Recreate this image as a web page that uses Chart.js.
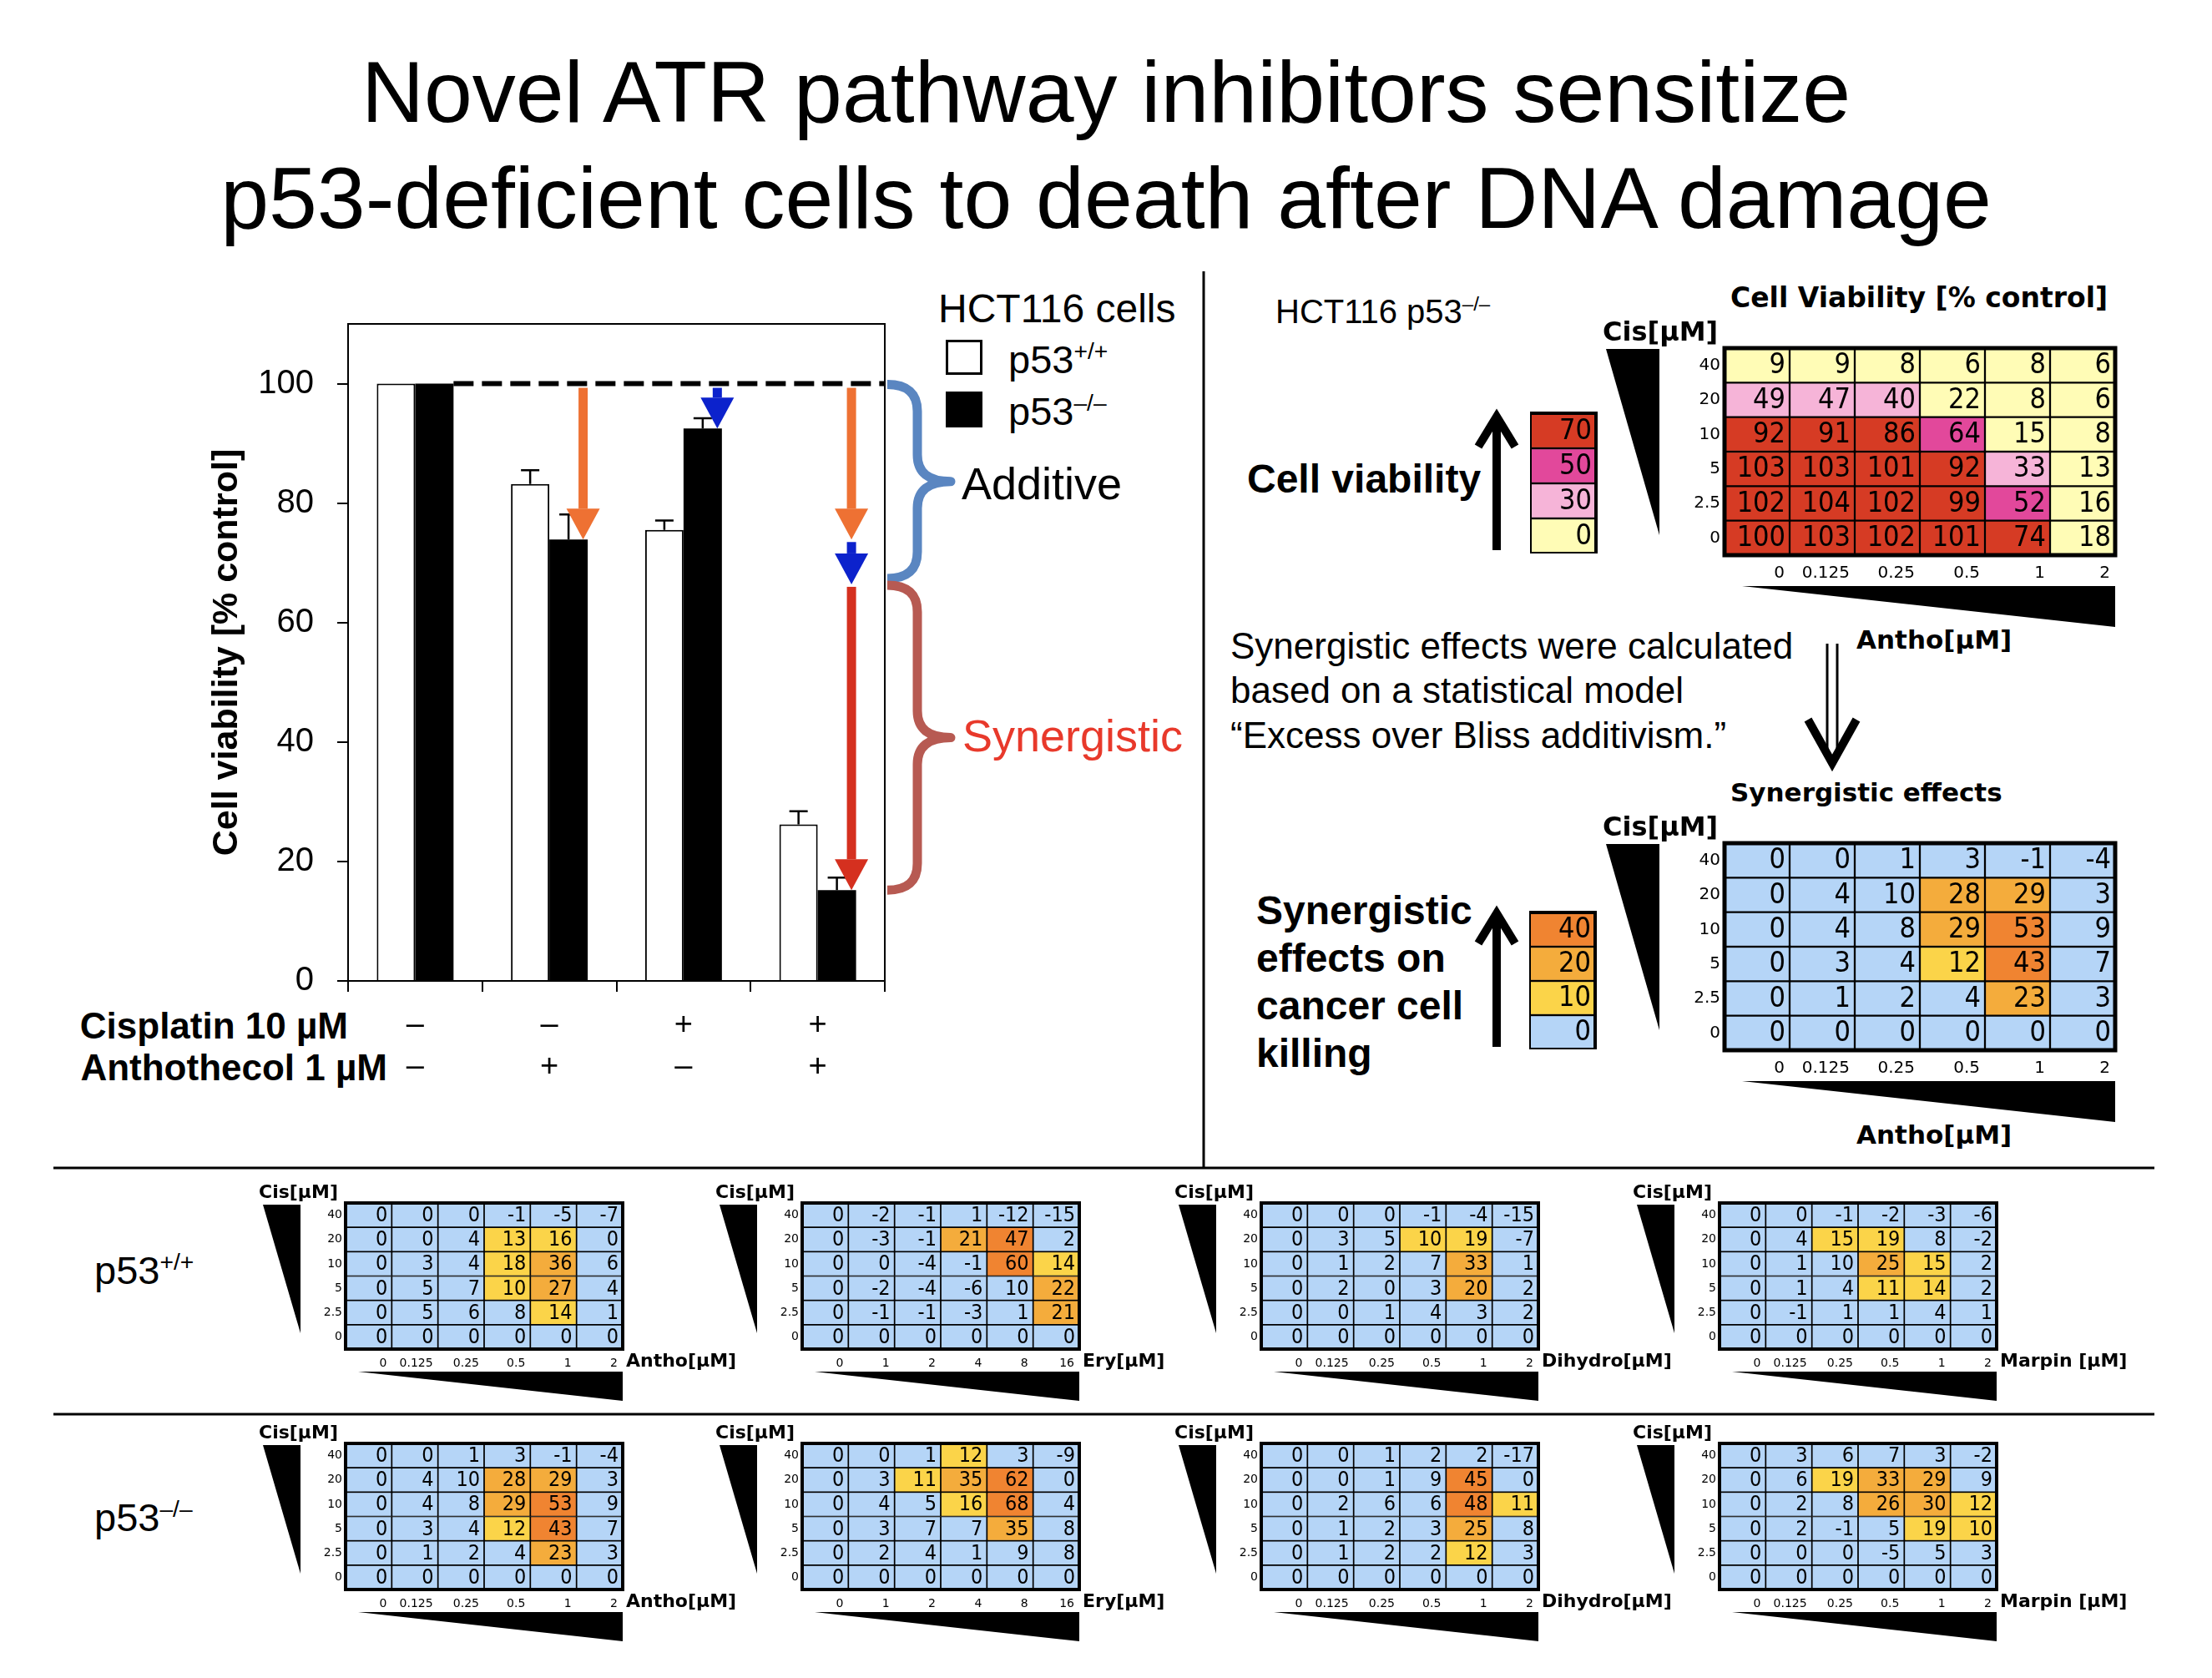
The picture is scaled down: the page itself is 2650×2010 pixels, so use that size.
<!DOCTYPE html>
<html>
<head>
<meta charset="utf-8">
<script src="https://cdn.jsdelivr.net/npm/chart.js@4.4.1/dist/chart.umd.min.js"></script>
<style>
  html, body { margin: 0; padding: 0; background: #fff; }
  #page { position: relative; width: 2650px; height: 2010px; overflow: hidden;
          font-family: "Liberation Sans", Arial, sans-serif; color: #000; }
  .t { position: absolute; white-space: nowrap; line-height: 1; transform: translateY(-50%); }
  .v { font-family: "DejaVu Sans", Verdana, sans-serif; font-weight: bold; }
  .b { font-weight: bold; }
  sup { font-size: 0.6em; position: relative; top: -0.62em; vertical-align: baseline; }
  canvas { position: absolute; }
  svg { position: absolute; left: 0; top: 0; }
</style>
</head>
<body>
<div id="page">
  <div class="t" style="left:0;width:2650px;text-align:center;top:110px;font-size:104px">Novel ATR pathway inhibitors sensitize</div>
  <div class="t" style="left:0;width:2650px;text-align:center;top:237px;font-size:104px">p53-deficient cells to death after DNA damage</div>

  <div class="t" style="left:1124px;top:370px;font-size:48px">HCT116 cells</div>
  <div style="position:absolute;left:1133px;top:407px;width:44px;height:42px;border:3px solid #000;box-sizing:border-box;background:#fff"></div>
  <div style="position:absolute;left:1133px;top:469px;width:44px;height:43px;background:#000"></div>
  <div class="t" style="left:1208px;top:430px;font-size:47px">p53<sup>+/+</sup></div>
  <div class="t" style="left:1208px;top:492px;font-size:47px">p53<sup>–/–</sup></div>
  <div class="t" style="left:1152px;top:579px;font-size:54px">Additive</div>
  <div class="t" style="left:1153px;top:881px;font-size:54px;color:#e8392b">Synergistic</div>
  <div class="t b" style="right:2233px;top:1229px;font-size:44px">Cisplatin 10 µM</div>
  <div class="t b" style="right:2186px;top:1279px;font-size:44px">Anthothecol 1 µM</div>

  <div class="t" style="left:1528px;top:373px;font-size:40px">HCT116 p53<sup>–/–</sup></div>
  <div class="t b" style="left:1494px;top:574px;font-size:48px">Cell viability</div>
  <div class="t" style="left:1474px;top:774px;font-size:44px">Synergistic effects were calculated</div>
  <div class="t" style="left:1474px;top:827px;font-size:44px">based on a statistical model</div>
  <div class="t" style="left:1474px;top:881px;font-size:44px">“Excess over Bliss additivism.”</div>
  <div class="t b" style="left:1505px;top:1091px;font-size:48px">Synergistic</div>
  <div class="t b" style="left:1505px;top:1148px;font-size:48px">effects on</div>
  <div class="t b" style="left:1505px;top:1205px;font-size:48px">cancer cell</div>
  <div class="t b" style="left:1505px;top:1262px;font-size:48px">killing</div>

  <div class="t" style="left:113px;top:1521px;font-size:47px">p53<sup>+/+</sup></div>
  <div class="t" style="left:113px;top:1817px;font-size:47px">p53<sup>–/–</sup></div>
</div>

<script>
// ---- bar chart: HCT116 viability after single / combined treatment ----
const conditions = [['–', '–'], ['–', '+'], ['+', '–'], ['+', '+']]; // cisplatin, anthothecol
const viabilityWT = [100, 83.2, 75.5, 26.2];
const viabilityKO = [100, 73.9, 92.5, 15.2];
const errorWT = [0, 2.3, 1.6, 2.2];
const errorKO = [0, 4.2, 1.7, 2.1];

// ---- dose grids (rows listed top to bottom, as printed) ----
const cisDoses = ['40', '20', '10', '5', '2.5', '0'];
const anthoDoses = ['0', '0.125', '0.25', '0.5', '1', '2'];
const eryDoses = ['0', '1', '2', '4', '8', '16'];
const dihydroDoses = ['0', '0.125', '0.25', '0.5', '1', '2'];
const marpinDoses = ['0', '0.125', '0.25', '0.5', '1', '2'];

const viabilityAnthoKO = [
  [9, 9, 8, 6, 8, 6],
  [49, 47, 40, 22, 8, 6],
  [92, 91, 86, 64, 15, 8],
  [103, 103, 101, 92, 33, 13],
  [102, 104, 102, 99, 52, 16],
  [100, 103, 102, 101, 74, 18]
];

// excess over Bliss; 9.6 = printed "10" but coloured in the band below 10
const synAnthoWT = [
  [0, 0, 0, -1, -5, -7],
  [0, 0, 4, 13, 16, 0],
  [0, 3, 4, 18, 36, 6],
  [0, 5, 7, 10, 27, 4],
  [0, 5, 6, 8, 14, 1],
  [0, 0, 0, 0, 0, 0]
];
const synEryWT = [
  [0, -2, -1, 1, -12, -15],
  [0, -3, -1, 21, 47, 2],
  [0, 0, -4, -1, 60, 14],
  [0, -2, -4, -6, 9.6, 22],
  [0, -1, -1, -3, 1, 21],
  [0, 0, 0, 0, 0, 0]
];
const synDihydroWT = [
  [0, 0, 0, -1, -4, -15],
  [0, 3, 5, 10, 19, -7],
  [0, 1, 2, 7, 33, 1],
  [0, 2, 0, 3, 20, 2],
  [0, 0, 1, 4, 3, 2],
  [0, 0, 0, 0, 0, 0]
];
const synMarpinWT = [
  [0, 0, -1, -2, -3, -6],
  [0, 4, 15, 19, 8, -2],
  [0, 1, 9.6, 25, 15, 2],
  [0, 1, 4, 11, 14, 2],
  [0, -1, 1, 1, 4, 1],
  [0, 0, 0, 0, 0, 0]
];
const synAnthoKO = [
  [0, 0, 1, 3, -1, -4],
  [0, 4, 9.6, 28, 29, 3],
  [0, 4, 8, 29, 53, 9],
  [0, 3, 4, 12, 43, 7],
  [0, 1, 2, 4, 23, 3],
  [0, 0, 0, 0, 0, 0]
];
const synEryKO = [
  [0, 0, 1, 12, 3, -9],
  [0, 3, 11, 35, 62, 0],
  [0, 4, 5, 16, 68, 4],
  [0, 3, 7, 7, 35, 8],
  [0, 2, 4, 1, 9, 8],
  [0, 0, 0, 0, 0, 0]
];
const synDihydroKO = [
  [0, 0, 1, 2, 2, -17],
  [0, 0, 1, 9, 45, 0],
  [0, 2, 6, 6, 48, 11],
  [0, 1, 2, 3, 25, 8],
  [0, 1, 2, 2, 12, 3],
  [0, 0, 0, 0, 0, 0]
];
const synMarpinKO = [
  [0, 3, 6, 7, 3, -2],
  [0, 6, 19, 33, 29, 9],
  [0, 2, 8, 26, 30, 12],
  [0, 2, -1, 5, 19, 10],
  [0, 0, 0, -5, 5, 3],
  [0, 0, 0, 0, 0, 0]
];

const viabilityKey = [[70], [50], [30], [0]];
const synergyKey = [[40], [20], [10], [0]];

// ---------------------------------------------------------------
Chart.defaults.font.family = '"Liberation Sans", Arial, sans-serif';
Chart.defaults.color = '#000';

const page = document.getElementById('page');
const ORANGE = '#ee7133', BLUE = '#0c22cc', RED = '#d5301f';

function viabilityColor(v) {
  if (v >= 70) return '#d63b24';
  if (v >= 50) return '#e2489b';
  if (v >= 30) return '#f6b4d8';
  return '#fffcb6';
}
function synergyColor(v) {
  if (v >= 40) return '#f08431';
  if (v >= 20) return '#f4ac3c';
  if (v >= 10) return '#fbd449';
  return '#b5d5f7';
}

function addCanvas(left, top, w, h) {
  const c = document.createElement('canvas');
  c.width = w; c.height = h;
  c.style.left = left + 'px'; c.style.top = top + 'px';
  page.appendChild(c);
  return c;
}
function addText(txt, left, top, size, cls) {
  const d = document.createElement('div');
  d.className = 't ' + (cls || '');
  d.style.left = left + 'px'; d.style.top = top + 'px'; d.style.fontSize = size + 'px';
  d.textContent = txt;
  page.appendChild(d);
}

// numbers + thick outer frame for the grids
const cellText = {
  id: 'cellText',
  afterDatasetsDraw(chart, args, opts) {
    const { ctx, chartArea: a } = chart;
    ctx.save();
    ctx.font = opts.font;
    ctx.fillStyle = '#000';
    ctx.textAlign = 'right';
    ctx.textBaseline = 'middle';
    chart.data.datasets.forEach((ds, i) => {
      chart.getDatasetMeta(i).data.forEach((bar, j) => {
        const p = bar.getProps(['x', 'y', 'base', 'width'], true);
        ctx.fillText(String(Math.round(ds.values[j])), p.x + p.width / 2 - opts.padX, (p.y + p.base) / 2 + 1);
      });
    });
    ctx.lineWidth = opts.frame;
    ctx.strokeStyle = '#000';
    ctx.strokeRect(a.left, a.top, a.right - a.left, a.bottom - a.top);
    ctx.restore();
  }
};

// a grid is a stacked bar chart: one dataset per row, one unit-high bar per cell
function heatmap(s) {
  const axes = !!s.rowLabels;
  const yW = axes ? s.yW : 0, xH = axes ? s.xH : 0;
  const padT = axes ? 30 : 4, padR = 8;
  const cv = addCanvas(s.left - yW, s.top - padT, yW + s.w + padR, padT + s.h + xH);
  const up = s.rows.slice().reverse();
  const labelsUp = axes ? s.rowLabels.slice().reverse() : [];
  const cols = s.cols || up[0].map(() => '');
  return new Chart(cv, {
    type: 'bar',
    data: {
      labels: cols,
      datasets: up.map(r => ({
        data: r.map(() => 1),
        values: r,
        backgroundColor: r.map(s.color),
        borderColor: '#000',
        borderWidth: s.bw,
        borderSkipped: false,
        categoryPercentage: 1,
        barPercentage: 1
      }))
    },
    options: {
      responsive: false,
      animation: false,
      events: [],
      layout: { padding: { top: padT, right: padR, left: 0, bottom: 0 } },
      plugins: {
        legend: { display: false },
        tooltip: { enabled: false },
        cellText: { font: s.cellFont, padX: s.padX, frame: s.frame }
      },
      scales: {
        x: {
          display: axes, stacked: true,
          grid: { display: false, drawTicks: false, tickLength: 0 },
          border: { display: false },
          ticks: { font: s.tickFont, padding: s.xPad, align: 'end', labelOffset: s.w / cols.length / 2 - 6,
                   autoSkip: false, maxRotation: 0 },
          afterFit: sc => { sc.height = xH; }
        },
        y: {
          display: axes, stacked: true, min: 0, max: up.length,
          grid: { display: false, drawTicks: false, tickLength: 0 },
          border: { display: false },
          afterBuildTicks: sc => { sc.ticks = labelsUp.map((_, i) => ({ value: i + 0.5 })); },
          ticks: { font: s.tickFont, padding: s.yPad, callback: (v, i) => labelsUp[i] },
          afterFit: sc => { sc.width = yW; }
        }
      }
    },
    plugins: [cellText]
  });
}

const CELL_FAMILY = '"DejaVu Sans Condensed", "DejaVu Sans", sans-serif';
const svgParts = [];
function tri(pts) { svgParts.push(`<polygon points="${pts.map(p => p.join(',')).join(' ')}" fill="#000"/>`); }

// ---- large grids (right panel) ----
function bigGrid(rows, color, left, top, title, titleSize) {
  heatmap({
    rows, color, left, top, w: 468, h: 248,
    rowLabels: cisDoses, cols: anthoDoses,
    yW: 44, xH: 40, yPad: 5, xPad: 10, bw: 1.5, frame: 5, padX: 5,
    tickFont: { family: 'DejaVu Sans', size: 20 },
    cellFont: '34px ' + CELL_FAMILY
  });
  addText(title, left + 7, top - 61, titleSize, 'v');
  addText('Cis[µM]', left - 146, top - 20, 32, 'v');
  addText('Antho[µM]', left + 158, top + 349, 31, 'v');
  tri([[left - 142, top + 1], [left - 78, top + 1], [left - 78, top + 224]]);
  tri([[left + 21, top + 285], [left + 468, top + 285], [left + 468, top + 334]]);
}
bigGrid(viabilityAnthoKO, viabilityColor, 2066, 417, 'Cell Viability [% control]', 33);
bigGrid(synAnthoKO, synergyColor, 2066, 1010, 'Synergistic effects', 31);

// colour keys
heatmap({ rows: viabilityKey, color: viabilityColor, left: 1833, top: 495, w: 79, h: 168,
          bw: 1.5, frame: 4, padX: 5, cellFont: '34px ' + CELL_FAMILY });
heatmap({ rows: synergyKey, color: synergyColor, left: 1832, top: 1093, w: 79, h: 164,
          bw: 1.5, frame: 4, padX: 5, cellFont: '34px ' + CELL_FAMILY });

// ---- small grids (bottom panels) ----
const compounds = [
  { name: 'Antho[µM]', doses: anthoDoses, wt: synAnthoWT, ko: synAnthoKO, left: 414 },
  { name: 'Ery[µM]', doses: eryDoses, wt: synEryWT, ko: synEryKO, left: 961 },
  { name: 'Dihydro[µM]', doses: dihydroDoses, wt: synDihydroWT, ko: synDihydroKO, left: 1511 },
  { name: 'Marpin [µM]', doses: marpinDoses, wt: synMarpinWT, ko: synMarpinKO, left: 2060 }
];
[[1441, 'wt'], [1729, 'ko']].forEach(([top, key]) => {
  compounds.forEach(c => {
    const L = c.left;
    heatmap({
      rows: c[key], color: synergyColor, left: L, top, w: 332, h: 175,
      rowLabels: cisDoses, cols: c.doses,
      yW: 30, xH: 30, yPad: 4, xPad: 9, bw: 1.2, frame: 4, padX: 5,
      tickFont: { family: 'DejaVu Sans', size: 14 },
      cellFont: '25px ' + CELL_FAMILY
    });
    addText('Cis[µM]', L - 104, top - 13, 22, 'v');
    addText(c.name, L + 336, top + 189, 22, 'v');
    tri([[L - 99, top + 2], [L - 54, top + 2], [L - 54, top + 156]]);
    tri([[L + 15, top + 202], [L + 332, top + 202], [L + 332, top + 237]]);
  });
});

// ---- bar chart ----
function arrow(ctx, x, y0, y1, color) {
  const hl = Math.min(37, y1 - y0), hw = 20, sw = 5.5;
  ctx.fillStyle = color;
  if (y1 - y0 > hl) ctx.fillRect(x - sw, y0, 2 * sw, y1 - y0 - hl);
  ctx.beginPath();
  ctx.moveTo(x - hw, y1 - hl); ctx.lineTo(x + hw, y1 - hl); ctx.lineTo(x, y1);
  ctx.closePath(); ctx.fill();
}
function brace(ctx, x0, yA, yB, color) {
  const xb = x0 + 36, xc = x0 + 76, mid = (yA + yB) / 2, r = 32;
  ctx.strokeStyle = color; ctx.lineWidth = 11; ctx.lineJoin = 'round'; ctx.setLineDash([]);
  ctx.beginPath();
  ctx.moveTo(x0, yA);
  ctx.quadraticCurveTo(xb, yA, xb, yA + r);
  ctx.lineTo(xb, mid - r);
  ctx.quadraticCurveTo(xb, mid, xc, mid);
  ctx.quadraticCurveTo(xb, mid, xb, mid + r);
  ctx.lineTo(xb, yB - r);
  ctx.quadraticCurveTo(xb, yB, x0, yB);
  ctx.stroke();
}

const barMarks = {
  id: 'barMarks',
  afterDatasetsDraw(chart) {
    const { ctx, chartArea: a, scales: { y } } = chart;
    const wt = chart.getDatasetMeta(0).data, ko = chart.getDatasetMeta(1).data;
    ctx.save();
    ctx.strokeStyle = '#000'; ctx.lineWidth = 2;
    ctx.beginPath(); ctx.moveTo(a.left, a.top); ctx.lineTo(a.right, a.top); ctx.lineTo(a.right, a.bottom); ctx.stroke();

    // upper error whiskers
    ctx.lineWidth = 2.5;
    [[wt, viabilityWT, errorWT], [ko, viabilityKO, errorKO]].forEach(([bars, v, e]) => {
      bars.forEach((b, i) => {
        if (!e[i]) return;
        const yt = y.getPixelForValue(v[i] + e[i]);
        ctx.beginPath();
        ctx.moveTo(b.x, y.getPixelForValue(v[i])); ctx.lineTo(b.x, yt);
        ctx.moveTo(b.x - 11, yt); ctx.lineTo(b.x + 11, yt);
        ctx.stroke();
      });
    });

    // control level
    const y100 = y.getPixelForValue(viabilityKO[0]);
    ctx.lineWidth = 6; ctx.setLineDash([24, 10]);
    ctx.beginPath(); ctx.moveTo(ko[0].x + ko[0].width / 2, y100); ctx.lineTo(a.right, y100); ctx.stroke();
    ctx.setLineDash([]);

    // effects of each drug alone and the Bliss-additive expectation
    const anthoOnly = viabilityKO[1], cisOnly = viabilityKO[2];
    const additive = anthoOnly - (viabilityKO[0] - cisOnly);
    const ax = b => b.x + 0.38 * b.width;
    arrow(ctx, ax(ko[1]), y100 + 5, y.getPixelForValue(anthoOnly), ORANGE);
    arrow(ctx, ax(ko[2]), y100 + 5, y.getPixelForValue(cisOnly), BLUE);
    arrow(ctx, ax(ko[3]), y100 + 5, y.getPixelForValue(anthoOnly), ORANGE);
    arrow(ctx, ax(ko[3]), y.getPixelForValue(anthoOnly) + 3, y.getPixelForValue(additive), BLUE);
    arrow(ctx, ax(ko[3]), y.getPixelForValue(additive) + 3, y.getPixelForValue(viabilityKO[3]), RED);

    brace(ctx, a.right + 3, y100 + 1, y.getPixelForValue(additive) - 7, '#5a86c1');
    brace(ctx, a.right + 3, y.getPixelForValue(additive) + 1, y.getPixelForValue(viabilityKO[3]), '#b75a52');
    ctx.restore();
  }
};

new Chart(addCanvas(0, 330, 1440, 1000), {
  type: 'bar',
  data: {
    labels: conditions,
    datasets: [
      { label: 'p53+/+', data: viabilityWT, backgroundColor: '#fff', borderColor: '#000', borderWidth: 2,
        categoryPercentage: 0.572, barPercentage: 1 },
      { label: 'p53-/-', data: viabilityKO, backgroundColor: '#000', borderColor: '#000', borderWidth: 0,
        categoryPercentage: 0.572, barPercentage: 1 }
    ]
  },
  options: {
    responsive: false,
    animation: false,
    events: [],
    layout: { padding: { left: 230, top: 58, right: 380, bottom: 0 } },
    plugins: { legend: { display: false }, tooltip: { enabled: false } },
    scales: {
      x: {
        grid: { drawOnChartArea: false, color: '#000', lineWidth: 2, tickLength: 13, offset: true },
        border: { color: '#000', width: 2 },
        ticks: { font: { size: 38, lineHeight: 1.3 }, padding: 16, maxRotation: 0, autoSkip: false },
        afterFit: sc => { sc.height = 155; }
      },
      y: {
        min: 0, max: 110,
        grid: { drawOnChartArea: false, color: '#000', lineWidth: 2, tickLength: 13 },
        border: { color: '#000', width: 2 },
        ticks: { stepSize: 20, includeBounds: false, font: { size: 40 }, padding: 28 },
        title: { display: true, text: 'Cell viability [% control]', font: { size: 43, weight: 'bold' },
                 padding: { top: 16, bottom: 0 } },
        afterFit: sc => { sc.width = 187; }
      }
    }
  },
  plugins: [barMarks]
});

// ---- rules, arrows ----
function upArrow(x, yTip, yEnd) {
  svgParts.push(`<line x1="${x}" y1="${yEnd}" x2="${x}" y2="${yTip + 6}" stroke="#000" stroke-width="10"/>`);
  svgParts.push(`<polyline points="${x - 22},${yTip + 40} ${x},${yTip + 4} ${x + 22},${yTip + 40}" fill="none" stroke="#000" stroke-width="10"/>`);
}
upArrow(1793, 495, 659);
upArrow(1793, 1090, 1254);
svgParts.push('<line x1="2189" y1="771" x2="2189" y2="900" stroke="#000" stroke-width="3"/>');
svgParts.push('<line x1="2201" y1="771" x2="2201" y2="900" stroke="#000" stroke-width="3"/>');
svgParts.push('<polyline points="2166,862 2195,914 2224,862" fill="none" stroke="#000" stroke-width="10"/>');
svgParts.push('<line x1="1442" y1="325" x2="1442" y2="1399" stroke="#000" stroke-width="3"/>');
svgParts.push('<line x1="64" y1="1399" x2="2581" y2="1399" stroke="#000" stroke-width="3"/>');
svgParts.push('<line x1="64" y1="1694" x2="2581" y2="1694" stroke="#000" stroke-width="3"/>');

const svg = document.createElementNS('http://www.w3.org/2000/svg', 'svg');
svg.setAttribute('width', 2650); svg.setAttribute('height', 2010);
svg.innerHTML = svgParts.join('');
page.appendChild(svg);
</script>
</body>
</html>
